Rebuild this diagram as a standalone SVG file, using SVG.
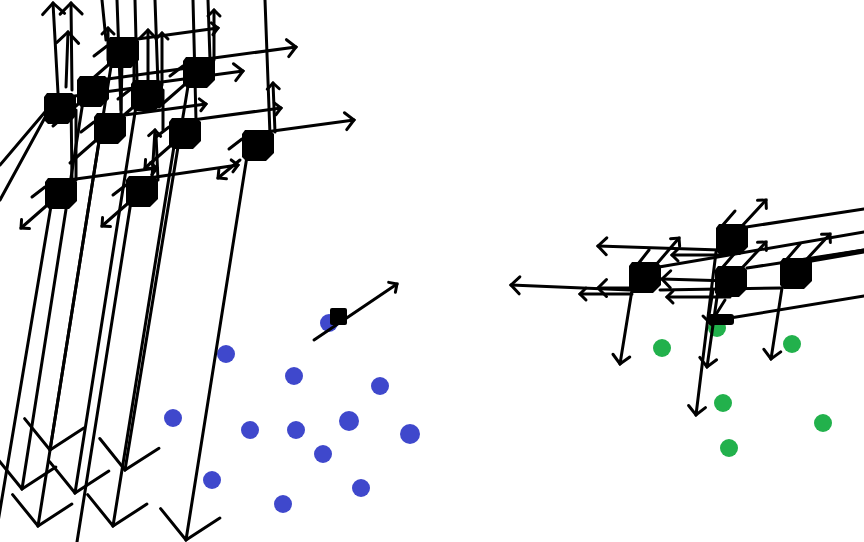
<svg xmlns="http://www.w3.org/2000/svg" width="864" height="542" viewBox="0 0 864 542">
<style>
.c line{stroke:#000;stroke-width:3;fill:none;stroke-linecap:round}
.h{marker-end:url(#s)}
.t{marker-end:url(#m)}
.u{marker-end:url(#l)}
.d{marker-end:url(#b)}
.blue{fill:#3f48cc}
.green{fill:#22b14c}
</style>
<defs>
<marker id="m" markerUnits="userSpaceOnUse" viewBox="-20 -20 40 40" markerWidth="40" markerHeight="40" refX="0" refY="0" orient="auto" overflow="visible"><path d="M-6,-6L0,0L-6,6" fill="none" stroke="#000" stroke-width="3" stroke-linecap="round"/></marker>
<marker id="s" markerUnits="userSpaceOnUse" viewBox="-20 -20 40 40" markerWidth="40" markerHeight="40" refX="0" refY="0" orient="auto" overflow="visible"><path d="M-8.5,-8.5L0,0L-8.5,8.5" fill="none" stroke="#000" stroke-width="3" stroke-linecap="round"/></marker>
<marker id="l" markerUnits="userSpaceOnUse" viewBox="-20 -20 40 40" markerWidth="40" markerHeight="40" refX="0" refY="0" orient="auto" overflow="visible"><path d="M-11,-11L0,0L-11,11" fill="none" stroke="#000" stroke-width="3" stroke-linecap="round"/></marker>
<marker id="b" markerUnits="userSpaceOnUse" viewBox="-40 -40 80 80" markerWidth="80" markerHeight="80" refX="0" refY="0" orient="auto" overflow="visible"><path d="M-27,-30L0,0L-27,30" fill="none" stroke="#000" stroke-width="3" stroke-linecap="round"/></marker>
<path id="cube" d="M-13,-15L12,-15L16,-11L16,8L8,16L-12,16L-16,12L-16,-11Z"/>
</defs>
<rect width="864" height="542" fill="#fff"/>
<g id="points">
<circle class="blue" cx="329" cy="323" r="9"/><circle class="blue" cx="226" cy="354" r="9"/><circle class="blue" cx="294" cy="376" r="9"/><circle class="blue" cx="380" cy="386" r="9"/><circle class="blue" cx="173" cy="418" r="9"/><circle class="blue" cx="250" cy="430" r="9"/><circle class="blue" cx="296" cy="430" r="9"/><circle class="blue" cx="349" cy="421" r="10"/><circle class="blue" cx="410" cy="434" r="10"/><circle class="blue" cx="323" cy="454" r="9"/><circle class="blue" cx="212" cy="480" r="9"/><circle class="blue" cx="361" cy="488" r="9"/><circle class="blue" cx="283" cy="504" r="9"/>
<circle class="green" cx="717" cy="328" r="9"/><circle class="green" cx="662" cy="348" r="9"/><circle class="green" cx="792" cy="344" r="9"/><circle class="green" cx="723" cy="403" r="9"/><circle class="green" cx="823" cy="423" r="9"/><circle class="green" cx="729" cy="448" r="9"/>
</g>
<g id="connectors" class="c">
<!-- down -->
<line class="d" x1="248" y1="150" x2="186" y2="540"/>
<line class="d" x1="175" y1="140" x2="113" y2="526"/>
<line class="d" x1="189" y1="80" x2="125" y2="470"/>
<line x1="132" y1="195" x2="77" y2="542"/>
<line x1="52" y1="200" x2="-3" y2="528"/>
<line class="d" x1="137" y1="100" x2="75" y2="493"/>
<line class="d" x1="100" y1="135" x2="38" y2="526"/>
<line class="d" x1="112" y1="60" x2="50" y2="450"/>
<line class="d" x1="84" y1="95" x2="22" y2="489"/>
<!-- right -->
<line class="h" x1="258" y1="133" x2="354" y2="120"/>
<line class="t" x1="185" y1="121" x2="281" y2="108"/>
<line class="h" x1="199" y1="60" x2="296" y2="47"/>
<line class="h" x1="147" y1="84" x2="243" y2="71"/>
<line class="t" x1="110" y1="117" x2="206" y2="104"/>
<line class="t" x1="123" y1="41" x2="218" y2="28"/>
<line class="t" x1="142" y1="179" x2="238" y2="165"/>
<line class="t" x1="61" y1="181" x2="157" y2="168"/>
<line x1="93" y1="81" x2="188" y2="68"/>
<line x1="60" y1="98" x2="156" y2="85"/>
<!-- lower-left -->
<line class="t" x1="61" y1="193" x2="21" y2="228"/>
<line class="t" x1="142" y1="191" x2="102" y2="226"/>
<line class="t" x1="240" y1="160" x2="218" y2="178"/>
<line class="t" x1="185" y1="133" x2="145" y2="168"/>
<line x1="199" y1="72" x2="159" y2="107"/>
<line x1="147" y1="95" x2="107" y2="130"/>
<line x1="110" y1="128" x2="70" y2="163"/>
<line x1="123" y1="52" x2="83" y2="87"/>
<line x1="93" y1="91" x2="53" y2="126"/>
<line x1="45" y1="112" x2="0" y2="165"/>
<line x1="48" y1="112" x2="0" y2="200"/>
<!-- stubs -->
<line x1="32" y1="197" x2="45" y2="187"/>
<line x1="113" y1="195" x2="126" y2="185"/>
<line x1="229" y1="149" x2="242" y2="139"/>
<line x1="156" y1="137" x2="169" y2="127"/>
<line x1="170" y1="76" x2="183" y2="66"/>
<line x1="118" y1="99" x2="131" y2="89"/>
<line x1="81" y1="132" x2="94" y2="122"/>
<line x1="94" y1="56" x2="107" y2="46"/>
<!-- up -->
<line x1="265" y1="0" x2="270" y2="135"/>
<line class="t" x1="275" y1="132" x2="273" y2="83"/>
<line x1="208" y1="0" x2="210" y2="60"/>
<line class="t" x1="214" y1="60" x2="214" y2="10"/>
<line x1="193" y1="0" x2="196" y2="120"/>
<line x1="155" y1="0" x2="158" y2="85"/>
<line x1="135" y1="0" x2="137" y2="80"/>
<line class="h" x1="148" y1="85" x2="148" y2="30"/>
<line class="t" x1="162" y1="85" x2="162" y2="33"/>
<line x1="102" y1="0" x2="106" y2="40"/>
<line x1="117" y1="0" x2="121" y2="110"/>
<line class="t" x1="108" y1="60" x2="108" y2="28"/>
<line class="u" x1="58" y1="93" x2="53" y2="3"/>
<line class="u" x1="72" y1="90" x2="71" y2="3"/>
<line class="u" x1="66" y1="87" x2="68" y2="32"/>
<line x1="72" y1="180" x2="71" y2="100"/>
<line x1="76" y1="180" x2="76" y2="110"/>
<line class="t" x1="152" y1="178" x2="155" y2="130"/>
<line x1="158" y1="180" x2="156" y2="135"/>
<line x1="122" y1="60" x2="121" y2="115"/>
<line x1="134" y1="60" x2="134" y2="85"/>
<line x1="163" y1="90" x2="163" y2="130"/>
<!-- small -->
<line class="t" x1="314" y1="340" x2="397" y2="284"/>
<!-- right cluster -->
<line x1="740" y1="228" x2="864" y2="209"/>
<line x1="659" y1="267" x2="864" y2="232"/>
<line x1="747" y1="268" x2="864" y2="250"/>
<line x1="800" y1="261" x2="864" y2="250"/>
<line x1="800" y1="263" x2="864" y2="252"/>
<line x1="730" y1="318" x2="864" y2="296"/>
<line class="h" x1="720" y1="250" x2="598" y2="246"/>
<line class="h" x1="630" y1="290" x2="511" y2="285"/>
<line class="h" x1="632" y1="288" x2="598" y2="288"/>
<line class="t" x1="632" y1="294" x2="580" y2="294"/>
<line class="t" x1="720" y1="255" x2="672" y2="255"/>
<line class="h" x1="730" y1="281" x2="662" y2="279"/>
<line class="t" x1="730" y1="297" x2="667" y2="297"/>
<line x1="660" y1="290" x2="782" y2="288"/>
<line x1="638" y1="264" x2="649" y2="250"/>
<line class="t" x1="655" y1="266" x2="679" y2="238"/>
<line x1="722" y1="226" x2="735" y2="211"/>
<line class="t" x1="742" y1="226" x2="766" y2="200"/>
<line x1="722" y1="268" x2="735" y2="253"/>
<line class="t" x1="742" y1="268" x2="766" y2="242"/>
<line x1="787" y1="259" x2="800" y2="244"/>
<line class="t" x1="806" y1="260" x2="830" y2="234"/>
<line class="h" x1="632" y1="290" x2="620" y2="364"/>
<line class="h" x1="782" y1="288" x2="771" y2="359"/>
<line class="h" x1="716" y1="252" x2="696" y2="415"/>
<line class="h" x1="718" y1="290" x2="707" y2="367"/>
<line x1="713" y1="290" x2="709" y2="315"/>
<line x1="715" y1="316" x2="725" y2="300"/>
<line x1="712" y1="325" x2="703" y2="316"/>
</g>
<g id="n1"><use href="#cube" x="60" y="108"/></g>
<g id="n2"><use href="#cube" x="93" y="91"/></g>
<g id="n3"><use href="#cube" x="123" y="52"/></g>
<g id="n4"><use href="#cube" x="147" y="95"/></g>
<g id="n5"><use href="#cube" x="199" y="72"/></g>
<g id="n6"><use href="#cube" x="110" y="128"/></g>
<g id="n7"><use href="#cube" x="185" y="133"/></g>
<g id="n8"><use href="#cube" x="258" y="145"/></g>
<g id="n9"><use href="#cube" x="61" y="193"/></g>
<g id="n10"><use href="#cube" x="142" y="191"/></g>
<g id="n11"><use href="#cube" x="645" y="277"/></g>
<g id="n12"><use href="#cube" x="732" y="239"/></g>
<g id="n13"><use href="#cube" x="731" y="281"/></g>
<g id="n14"><use href="#cube" x="796" y="273"/></g>
<g id="n15"><rect x="708" y="314" width="26" height="11" rx="3"/></g>
<g id="n16"><rect x="330" y="308" width="17" height="17" rx="2"/></g>
</svg>
